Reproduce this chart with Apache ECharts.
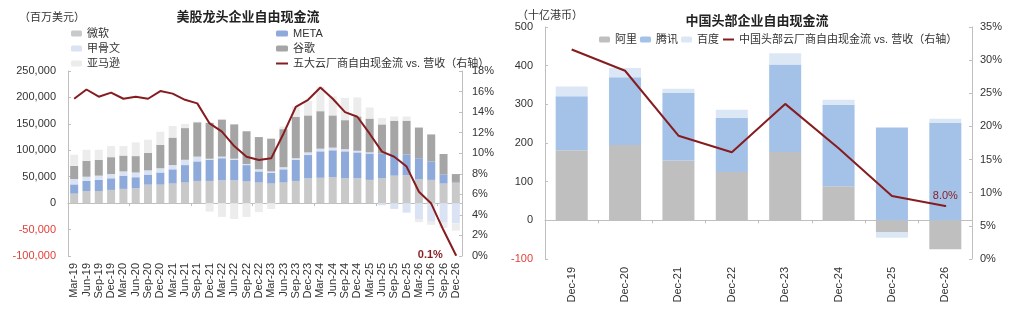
<!DOCTYPE html>
<html>
<head>
<meta charset="utf-8">
<script src="https://cdn.jsdelivr.net/npm/echarts@6/dist/echarts.min.js"></script>
<style>
html,body{margin:0;padding:0;background:#fff;}
#c{width:1024px;height:315px;}
</style>
</head>
<body>
<div id="c"></div>
<script>
// ---------- Left chart data (百万美元) ----------
const usCats = ['Mar-19','Jun-19','Sep-19','Dec-19','Mar-20','Jun-20','Sep-20','Dec-20',
  'Mar-21','Jun-21','Sep-21','Dec-21','Mar-22','Jun-22','Sep-22','Dec-22',
  'Mar-23','Jun-23','Sep-23','Dec-23','Mar-24','Jun-24','Sep-24','Dec-24',
  'Mar-25','Jun-25','Sep-25','Dec-25','Mar-26','Jun-26','Sep-26','Dec-26'];
const msft  = [18000,23000,23000,25000,27000,28000,35000,35000,37000,39000,42000,42000,43000,43000,41000,39000,37000,39000,42000,47000,48000,49000,47000,47000,44000,47000,52000,53000,45000,44000,37000,38000];
const meta  = [17500,19000,21000,22000,25000,21000,19000,23000,27000,33000,37000,40000,42000,39000,31000,21000,20000,25000,40000,44000,50000,51000,51000,49000,50000,47000,41000,39000,40000,35000,17000,1000];
const orcl  = [10000,8000,8000,8000,8000,9000,8000,8000,8000,10000,9000,2000,3000,2000,2000,4000,3000,4000,3000,5000,5000,5000,4000,3000,2000,-4000,-11000,-18000,-30000,-35000,-37000,-38000];
const googl = [25000,30000,30000,32000,30000,31000,33000,44000,52000,60000,65000,68000,70000,65000,62000,61000,62000,72000,78000,70000,71000,61000,55000,65000,64000,55000,63000,64000,58000,51000,39000,16000];
const amzn  = [21000,21000,19000,21000,18000,26000,25000,25000,22000,8000,1000,-16000,-26000,-30000,-26000,-17000,-11000,5000,20000,27000,46000,36000,42000,36000,21000,12000,8000,8000,-6000,-6000,-10000,-14000];
const usPct = [15.3,16.2,15.5,15.9,15.3,15.5,15.3,16.05,15.8,15.2,14.85,12.9,12.1,10.7,9.66,9.34,9.5,11.9,14.5,15.2,16.4,15.3,14.0,13.55,11.9,10.15,9.66,8.7,6.25,5.1,2.5,0.1];

// ---------- Right chart data (十亿港币) ----------
const cnCats  = ['Dec-19','Dec-20','Dec-21','Dec-22','Dec-23','Dec-24','Dec-25','Dec-26'];
const ali     = [181,195,155,125,177,88,-30,-75];
const tencent = [140,175,174,140,226,211,240,252];
const baidu   = [25,24,11,21,29,13,-15,11];
const cnPct   = [31.6,28.4,18.6,16.1,23.4,16.7,9.5,8.0];

const FONT = '"Liberation Sans","Noto Sans CJK SC",sans-serif';
const AX = '#bfbfbf';
const TXT = '#333';
const NEG = '#e0413a';
const RED = '#861c1f';
const US_LINE = '五大云厂商自由现金流 vs. 营收（右轴）';
const CN_LINE = '中国头部云厂商自由现金流 vs. 营收（右轴）';

const chart = echarts.init(document.getElementById('c'), null, {renderer:'canvas'});

function negColor(v){ return Number(v) < 0 ? NEG : TXT; }
function lastLabel(arr, lbl){
  return arr.map((v,i)=> i===arr.length-1 ? {value:v, symbol:'circle', symbolSize:2, label:lbl} : v);
}

const option = {
  animation:false,
  textStyle:{fontFamily:FONT},
  graphic:[
    {type:'text', x:248, y:16, style:{text:'美股龙头企业自由现金流', textAlign:'center', align:'center', textVerticalAlign:'middle', verticalAlign:'middle', font:'bold 13px "Noto Sans CJK SC"', fill:'#222'}},
    {type:'text', x:19, y:17, style:{text:'（百万美元）', textAlign:'left', align:'left', textVerticalAlign:'middle', verticalAlign:'middle', font:'11px "Noto Sans CJK SC"', fill:TXT}},
    {type:'text', x:757, y:20, style:{text:'中国头部企业自由现金流', textAlign:'center', align:'center', textVerticalAlign:'middle', verticalAlign:'middle', font:'bold 13px "Noto Sans CJK SC"', fill:'#222'}},
    {type:'text', x:517, y:15, style:{text:'（十亿港币）', textAlign:'left', align:'left', textVerticalAlign:'middle', verticalAlign:'middle', font:'11px "Noto Sans CJK SC"', fill:TXT}}
  ],
  legend:[
    {orient:'vertical', left:66, top:22, itemWidth:11, itemHeight:6, itemGap:2,
     textStyle:{fontSize:11, color:TXT, lineHeight:13, fontFamily:FONT},
     data:['微软','甲骨文','亚马逊']},
    {orient:'vertical', left:270, top:22, itemWidth:12, itemHeight:6, itemGap:2,
     textStyle:{fontSize:11, color:TXT, lineHeight:13, fontFamily:FONT},
     data:['META','谷歌',{name:US_LINE, itemStyle:{opacity:0}}]},
    {orient:'horizontal', left:594, top:29, itemWidth:11, itemHeight:6, itemGap:3,
     textStyle:{fontSize:11, color:TXT, fontFamily:FONT},
     data:['阿里','腾讯','百度',{name:CN_LINE, itemStyle:{opacity:0}}]}
  ],
  grid:[
    {left:68, right:562, top:71, bottom:59, containLabel:false},
    {left:545, right:52, top:27, bottom:56, containLabel:false}
  ],
  xAxis:[
    {type:'category', gridIndex:0, data:usCats, position:'bottom',
     axisLine:{show:false, onZero:false}, axisTick:{show:false},
     axisLabel:{interval:0, rotate:90, fontSize:11, color:TXT, margin:7}},
    {type:'category', gridIndex:0, data:usCats, position:'bottom',
     axisLine:{show:true, onZero:true, onZeroAxisIndex:0, lineStyle:{color:AX}},
     axisTick:{show:true, length:3, lineStyle:{color:AX}}, axisLabel:{show:false}},
    {type:'category', gridIndex:1, data:cnCats, position:'bottom',
     axisLine:{show:false, onZero:false}, axisTick:{show:false},
     axisLabel:{interval:0, rotate:90, fontSize:11, color:TXT, margin:8}},
    {type:'category', gridIndex:1, data:cnCats, position:'bottom',
     axisLine:{show:true, onZero:true, onZeroAxisIndex:2, lineStyle:{color:AX}},
     axisTick:{show:true, length:3, lineStyle:{color:AX}}, axisLabel:{show:false}}
  ],
  yAxis:[
    {type:'value', gridIndex:0, min:-100000, max:250000, interval:50000, position:'left',
     axisLine:{show:true, lineStyle:{color:AX}}, axisTick:{show:true, inside:true, length:3, lineStyle:{color:AX}},
     splitLine:{show:false}, axisLabel:{fontSize:11, margin:12, color:negColor}},
    {type:'value', gridIndex:0, min:0, max:18, interval:2, position:'right',
     axisLine:{show:true, lineStyle:{color:AX}}, axisTick:{show:true, inside:true, length:3, lineStyle:{color:AX}},
     splitLine:{show:false}, axisLabel:{fontSize:11, margin:10, color:TXT, formatter:'{value}%'}},
    {type:'value', gridIndex:1, min:-100, max:500, interval:100, position:'left',
     axisLine:{show:true, lineStyle:{color:AX}}, axisTick:{show:true, inside:true, length:3, lineStyle:{color:AX}},
     splitLine:{show:false}, axisLabel:{fontSize:11, margin:12, color:negColor}},
    {type:'value', gridIndex:1, min:0, max:35, interval:5, position:'right',
     axisLine:{show:true, lineStyle:{color:AX}}, axisTick:{show:true, inside:true, length:3, lineStyle:{color:AX}},
     splitLine:{show:false}, axisLabel:{fontSize:11, margin:8, color:TXT, formatter:'{value}%'}}
  ],
  series:[
    {name:'微软', type:'bar', stack:'us', xAxisIndex:0, yAxisIndex:0, barWidth:'65%', data:msft, itemStyle:{color:'#c9c9c9'}},
    {name:'META', type:'bar', stack:'us', xAxisIndex:0, yAxisIndex:0, barWidth:'65%', data:meta, itemStyle:{color:'#8eaadb'}},
    {name:'甲骨文', type:'bar', stack:'us', xAxisIndex:0, yAxisIndex:0, barWidth:'65%', data:orcl, itemStyle:{color:'#dae3f3'}},
    {name:'谷歌', type:'bar', stack:'us', xAxisIndex:0, yAxisIndex:0, barWidth:'65%', data:googl, itemStyle:{color:'#a5a5a5'}},
    {name:'亚马逊', type:'bar', stack:'us', xAxisIndex:0, yAxisIndex:0, barWidth:'65%', data:amzn, itemStyle:{color:'#ececec'}},
    {name:US_LINE, type:'line', xAxisIndex:0, yAxisIndex:1, symbol:'none', z:5,
     lineStyle:{color:RED, width:2}, itemStyle:{color:RED},
     data:lastLabel(usPct, {show:true, position:'left', distance:12, formatter:'0.1%', color:RED, fontWeight:'bold', fontSize:11})},

    {name:'阿里', type:'bar', stack:'cn', xAxisIndex:2, yAxisIndex:2, barWidth:'60%', data:ali, itemStyle:{color:'#bfbfbf'}},
    {name:'腾讯', type:'bar', stack:'cn', xAxisIndex:2, yAxisIndex:2, barWidth:'60%', data:tencent, itemStyle:{color:'#a4c2e8'}},
    {name:'百度', type:'bar', stack:'cn', xAxisIndex:2, yAxisIndex:2, barWidth:'60%', data:baidu, itemStyle:{color:'#dce7f5'}},
    {name:CN_LINE, type:'line', xAxisIndex:2, yAxisIndex:3, symbol:'none', z:5,
     lineStyle:{color:RED, width:2}, itemStyle:{color:RED},
     data:lastLabel(cnPct, {show:true, position:'top', distance:4, formatter:'8.0%', color:RED, fontSize:11})}
  ]
};
chart.setOption(option);
</script>
</body>
</html>
